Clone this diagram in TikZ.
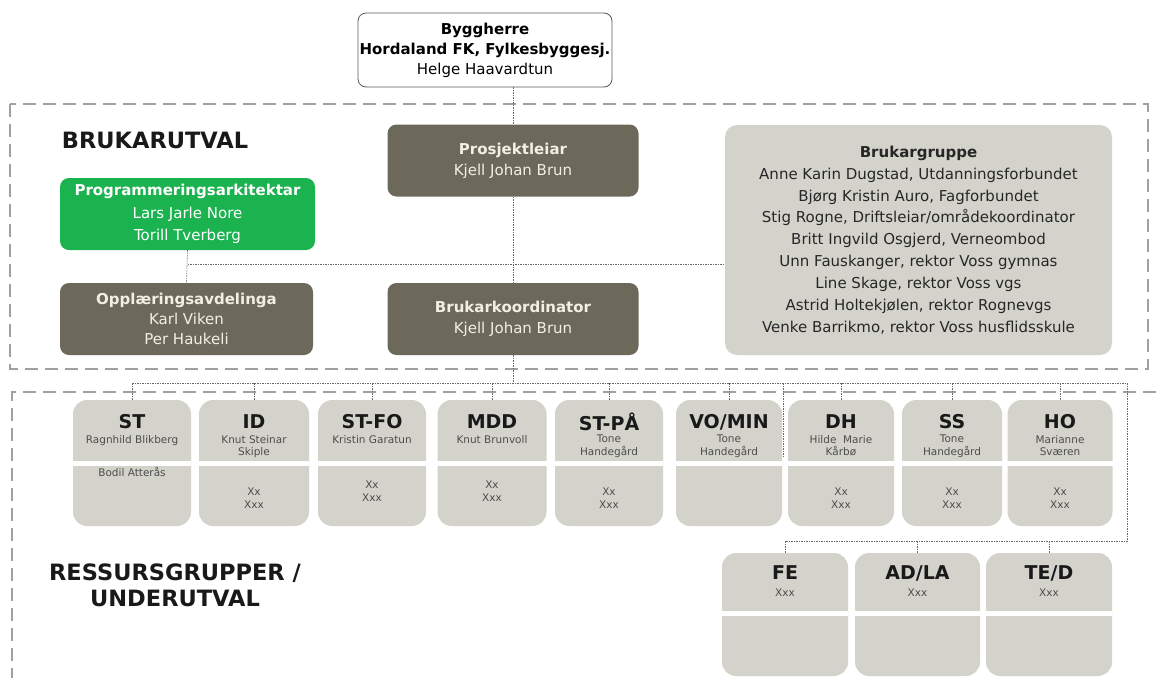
\documentclass[tikz,border=0pt]{standalone}
\usepackage{fontspec}
\setmainfont{DejaVu Sans}
\usetikzlibrary{positioning,backgrounds}

\definecolor{olive}{RGB}{108,104,90}
\definecolor{olivetext}{RGB}{242,239,228}
\definecolor{progreen}{RGB}{27,178,80}
\definecolor{stone}{RGB}{212,211,203}
\definecolor{framegray}{RGB}{160,160,160}
\definecolor{wiregray}{RGB}{105,105,105}

\begin{document}
\begin{tikzpicture}[
        x=1pt, y=-1pt,
        every node/.style={align=center, inner sep=0pt},
        darkbox/.style={fill=olive, text=olivetext, rounded corners=9pt,
            minimum width=251pt, minimum height=72pt, font=\fontsize{15}{21}\selectfont},
        greenbox/.style={darkbox, fill=progreen, text=white},
        stonebox/.style={fill=stone, text=black!85, rounded corners=12pt},
        unitbox/.style={fill=stone, rounded corners=14pt},
        unithead/.style={font=\fontsize{19}{22}\selectfont\bfseries, text=black!90},
        unitwho/.style={font=\fontsize{10.5}{12.5}\selectfont, text=black!70},
        section/.style={font=\fontsize{22.5}{26}\selectfont\bfseries, text=black!90},
        frame/.style={draw=framegray, line width=1.8pt, dash pattern=on 13pt off 7pt},
        wire/.style={draw=wiregray, line width=0.6pt, dash pattern=on 1.5pt off 1pt}
    ]
    \useasboundingbox (0,0) rectangle (1156,678);

    % Top
    \node[draw=black!65, line width=0.8pt, fill=white, rounded corners=8pt,
        minimum width=254pt, minimum height=74pt,
        font=\fontsize{15}{20}\selectfont] (bygg) at (485,50)
        {\textbf{Byggherre}\\ \textbf{Hordaland FK, Fylkesbyggesj.}\\ Helge Haavardtun};

    % Brukarutval
    \node[section] (brukarutval) at (155,140) {BRUKARUTVAL};
    \node[darkbox] (proj) at (513,160.5) {\textbf{Prosjektleiar}\\ Kjell Johan Brun};
    \node[darkbox] (koord) at (513,319) {\textbf{Brukarkoordinator}\\ Kjell Johan Brun};
    \node[greenbox, minimum width=255pt, font=\fontsize{15}{22.5}\selectfont] (prog) at (187.5,214)
        {\textbf{Programmeringsarkitektar}\\ Lars Jarle Nore\\ Torill Tverberg};
    \node[darkbox, minimum width=253pt, font=\fontsize{15}{20}\selectfont] (opp) at (186.5,319)
        {\textbf{Opplæringsavdelinga}\\ Karl Viken\\ Per Haukeli};
    \node[stonebox, minimum width=387pt, minimum height=230pt,
        font=\fontsize{15}{21.9}\selectfont] (brgr) at (918.5,240)
        {\textbf{Brukargruppe}\\
         Anne Karin Dugstad, Utdanningsforbundet\\
         Bjørg Kristin Auro, Fagforbundet\\
         Stig Rogne, Driftsleiar/områdekoordinator\\
         Britt Ingvild Osgjerd, Verneombod\\
         Unn Fauskanger, rektor Voss gymnas\\
         Line Skage, rektor Voss vgs\\
         Astrid Holtekjølen, rektor Rognevgs\\
         Venke Barrikmo, rektor Voss husflidsskule};

    % Ressursgrupper
    \node[section] (ressurs) at (175,585) {RESSURSGRUPPER /\\ UNDERUTVAL};
    \foreach \id/\cx/\w/\head/\who/\ly/\low in {
        st/132/118/ST/{Ragnhild Blikberg}/472/{Bodil Atterås},
        id/254/110/ID/{Knut Steinar\\Skiple}/498/{Xx\\Xxx},
        stfo/372/108/ST-FO/{Kristin Garatun}/491/{Xx\\Xxx},
        mdd/492/109/MDD/{Knut Brunvoll}/491/{Xx\\Xxx},
        stpa/609/108/ST-PÅ/{Tone\\Handegård}/498/{Xx\\Xxx},
        vomin/729/106/{VO/MIN}/{Tone\\Handegård}/498/{},
        dh/841/106/DH/{Hilde \ Marie\\Kårbø}/498/{Xx\\Xxx},
        ss/952/100/SS/{Tone\\Handegård}/498/{Xx\\Xxx},
        ho/1060/105/HO/{Marianne\\Sværen}/498/{Xx\\Xxx}} {
        \node[unitbox, minimum width=\w pt, minimum height=126pt] (\id) at (\cx,463) {};
        \fill[white] ([yshift=2.5pt]\id.west) rectangle ([yshift=-3pt]\id.east);
        \node[unithead] (\id-head) at (\cx,422) {\head};
        \node[unitwho, anchor=north] (\id-who) at (\cx,435) {\who};
        \node[unitwho] (\id-low) at (\cx,\ly) {\low};
    }
    \foreach \id/\cx/\w/\head in {fe/785/126/FE, adla/917.5/125/{AD/LA}, ted/1049/126/{TE/D}} {
        \node[unitbox, minimum width=\w pt, minimum height=123pt] (\id) at (\cx,614.5) {};
        \fill[white] ([yshift=3.5pt]\id.west) rectangle ([yshift=-1.5pt]\id.east);
        \node[unithead] (\id-head) at (\cx,573) {\head};
        \node[unitwho] (\id-low) at (\cx,593) {Xxx};
    }

    % Lines
    \coordinate (busL) at (132,383);
    \coordinate (busR) at (1127,383);
    \coordinate (feR) at (1127,541);
    \coordinate (feL) at (785,541);
    \coordinate (stub) at (783,457);
    \begin{pgfonlayer}{background}
        \draw[frame] (10,104) rectangle (1148,369);
        \draw[frame] (1156,392) -- (12,392) -- (12,678);
        \draw[wire] (bygg.south -| proj) -- (proj.north);
        \draw[wire] (proj.south) -- (koord.north);
        \draw[wire] (koord.south) -- (koord.south |- busL);
        \draw[wire] (prog.south) -- (opp.north);
        \draw[wire] (prog.south |- 0,264) -- (brgr.west |- 0,264);
        \draw[wire] (busL) -- (busR) -- (feR) -- (feL);
        \draw[wire] (stub |- busL) -- (stub);
        \foreach \id in {st,id,stfo,mdd,stpa,vomin,dh,ss,ho}
            \draw[wire] (\id.north |- busL) -- (\id.north);
        \foreach \id in {fe,adla,ted}
            \draw[wire] (\id.north |- feL) -- (\id.north);
    \end{pgfonlayer}

\end{tikzpicture}
\end{document}
